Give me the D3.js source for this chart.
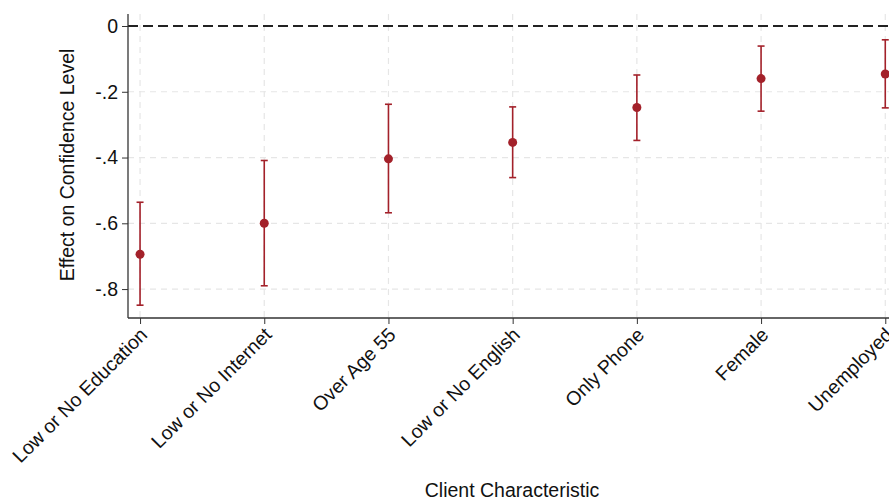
<!DOCTYPE html>
<html>
<head>
<meta charset="utf-8">
<script src="https://cdn.jsdelivr.net/npm/d3@7"></script>
<style>
  body { margin: 0; background: #fff; }
  text { font-family: "Liberation Sans", Arial, Helvetica, sans-serif; fill: #111; }
</style>
</head>
<body>
<div id="chart-area"></div>
<script>
// Data
var categories = ['Low or No Education', 'Low or No Internet', 'Over Age 55', 'Low or No English', 'Only Phone', 'Female', 'Unemployed'];
var estimates = [-0.694, -0.600, -0.404, -0.354, -0.248, -0.160, -0.146];
var lowerCI = [-0.849, -0.790, -0.568, -0.461, -0.348, -0.259, -0.249];
var upperCI = [-0.536, -0.409, -0.238, -0.246, -0.149, -0.061, -0.042];
var yTicks = [0, -0.2, -0.4, -0.6, -0.8];
var yTickLabels = ['0', '-.2', '-.4', '-.6', '-.8'];

var data = categories.map(function (c, i) {
  return { name: c, value: estimates[i], lo: lowerCI[i], hi: upperCI[i], idx: i };
});

// Setup SVG
var width = 889, height = 500;
var svg = d3.select('#chart-area').append('svg')
  .attr('width', width)
  .attr('height', height);

var plotLeft = 128, plotTop = 14, plotBottom = 318;
var red = '#a3212a';
var fontSize = '19.5px';

// Scales
var x = d3.scaleLinear().domain([-0.097, 6.03]).range([plotLeft, 889]);
var y = d3.scaleLinear().domain([0.0365, -0.888]).range([plotTop, plotBottom]);

// Grid lines
svg.append('g').selectAll('line')
  .data(yTicks.filter(function (d) { return d !== 0; }))
  .enter().append('line')
  .attr('x1', plotLeft).attr('x2', width)
  .attr('y1', function (d) { return y(d); })
  .attr('y2', function (d) { return y(d); })
  .attr('stroke', '#e6e6e6')
  .attr('stroke-width', 1.2)
  .attr('stroke-dasharray', '6,5');

svg.append('g').selectAll('line')
  .data(data)
  .enter().append('line')
  .attr('x1', function (d) { return x(d.idx); })
  .attr('x2', function (d) { return x(d.idx); })
  .attr('y1', plotTop).attr('y2', plotBottom)
  .attr('stroke', '#e6e6e6')
  .attr('stroke-width', 1.2)
  .attr('stroke-dasharray', '6,5');

// Zero reference line
svg.append('line')
  .attr('x1', plotLeft).attr('x2', width)
  .attr('y1', y(0)).attr('y2', y(0))
  .attr('stroke', '#222')
  .attr('stroke-width', 1.8)
  .attr('stroke-dasharray', '10,5');

// Axes
var yAxis = d3.axisLeft(y)
  .tickValues(yTicks)
  .tickFormat(function (d, i) { return yTickLabels[i]; })
  .tickSize(6)
  .tickPadding(4);

var gy = svg.append('g')
  .attr('transform', 'translate(' + plotLeft + ',0)')
  .call(yAxis);
gy.select('.domain').remove();
gy.selectAll('line').attr('stroke', '#333');
gy.selectAll('text').style('font-size', fontSize).attr('fill', '#111');

svg.append('line')
  .attr('x1', plotLeft).attr('x2', plotLeft)
  .attr('y1', plotTop).attr('y2', plotBottom)
  .attr('stroke', '#333').attr('stroke-width', 1.3);

var xAxis = d3.axisBottom(x)
  .tickValues(d3.range(categories.length))
  .tickFormat(function (d) { return categories[d]; })
  .tickSize(6);

var gx = svg.append('g')
  .attr('transform', 'translate(0,' + plotBottom + ')')
  .call(xAxis);
gx.select('.domain').remove();
gx.selectAll('line').attr('stroke', '#333');
gx.selectAll('text')
  .style('font-size', fontSize)
  .style('text-anchor', 'end')
  .attr('fill', '#111')
  .attr('x', 0).attr('y', 0).attr('dy', 0)
  .attr('transform', 'translate(8,18) rotate(-45)');

svg.append('line')
  .attr('x1', plotLeft).attr('x2', width)
  .attr('y1', plotBottom).attr('y2', plotBottom)
  .attr('stroke', '#333').attr('stroke-width', 1.3);

// Error bars
var bars = svg.append('g').selectAll('g')
  .data(data)
  .enter().append('g');

bars.append('line')
  .attr('x1', function (d) { return x(d.idx); })
  .attr('x2', function (d) { return x(d.idx); })
  .attr('y1', function (d) { return y(d.hi); })
  .attr('y2', function (d) { return y(d.lo); })
  .attr('stroke', red).attr('stroke-width', 1.6);

bars.append('line')
  .attr('x1', function (d) { return x(d.idx) - 3.5; })
  .attr('x2', function (d) { return x(d.idx) + 3.5; })
  .attr('y1', function (d) { return y(d.hi); })
  .attr('y2', function (d) { return y(d.hi); })
  .attr('stroke', red).attr('stroke-width', 1.6);

bars.append('line')
  .attr('x1', function (d) { return x(d.idx) - 3.5; })
  .attr('x2', function (d) { return x(d.idx) + 3.5; })
  .attr('y1', function (d) { return y(d.lo); })
  .attr('y2', function (d) { return y(d.lo); })
  .attr('stroke', red).attr('stroke-width', 1.6);

bars.append('circle')
  .attr('cx', function (d) { return x(d.idx); })
  .attr('cy', function (d) { return y(d.value); })
  .attr('r', 4.5)
  .attr('fill', red);

// Axis titles
svg.append('text')
  .attr('transform', 'translate(74,165) rotate(-90)')
  .style('text-anchor', 'middle')
  .style('font-size', fontSize)
  .text('Effect on Confidence Level');

svg.append('text')
  .attr('x', 512).attr('y', 497)
  .style('text-anchor', 'middle')
  .style('font-size', fontSize)
  .text('Client Characteristic');
</script>
</body>
</html>
